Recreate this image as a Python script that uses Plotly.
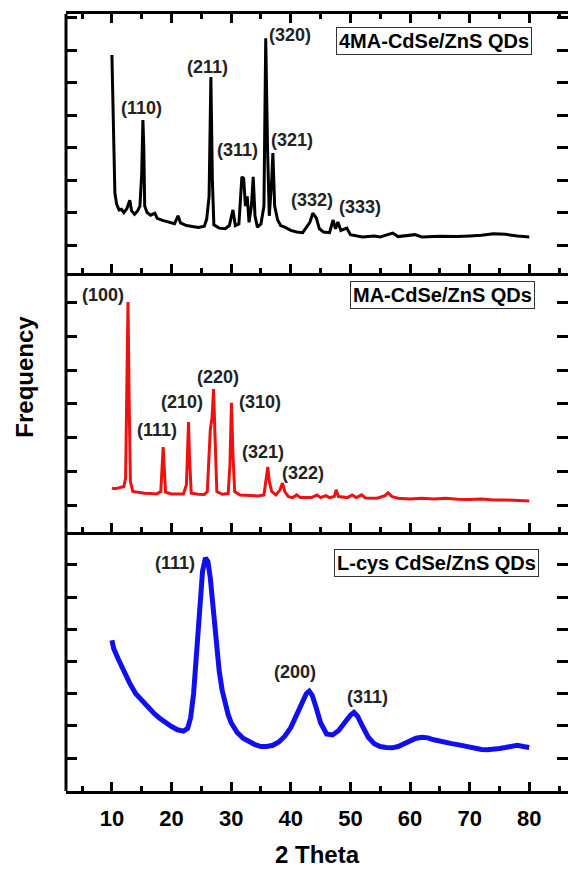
import plotly.graph_objects as go
from plotly.subplots import make_subplots

# ---- Data ----
x_4ma = [10.0, 10.15, 10.3, 10.5, 10.8, 11.2, 11.6, 12.0, 12.5, 13.0, 13.3, 13.8, 14.3, 14.7, 15.0, 15.2, 15.35, 15.5,
         15.9, 16.5, 17.2, 17.6, 18.5, 19.5, 20.5, 21.1, 21.5, 22.5, 23.5, 24.5, 25.5, 25.9, 26.3, 26.6, 26.85, 27.1,
         28.0, 29.0, 29.7, 30.3, 30.7, 31.3, 31.8, 32.1, 32.4, 32.7, 33.0, 33.4, 33.7, 34.0, 34.4, 35.0, 35.5, 35.8,
         36.1, 36.4, 36.8, 37.0, 37.3, 37.8, 38.3, 39.0, 40.0, 41.0, 42.0, 42.8, 43.2, 43.7, 44.3, 44.8, 45.5, 46.5,
         47.1, 47.5, 47.9, 48.4, 49.4, 50.0, 52.0, 54.0, 55.0, 57.1, 58.0, 60.8, 62.0, 65.0, 68.0, 70.0, 72.0, 74.0,
         76.0, 78.0, 80.0]
y_4ma = [585, 450, 250, 160, 125, 108, 110, 100, 112, 138, 105, 95, 105, 120, 220, 385, 300, 120,
         100, 92, 98, 82, 76, 70, 66, 90, 68, 60, 56, 54, 58, 80, 150, 517, 200, 62,
         52, 50, 60, 108, 60, 65, 210, 205, 120, 150, 70, 120, 210, 90, 55, 65, 120, 636,
         300, 90, 200, 283, 120, 77, 60, 55, 45, 40, 38, 60, 70, 98, 83, 50, 40, 38,
         77, 50, 71, 45, 52, 32, 25, 28, 25, 37, 26, 32, 25, 27, 26, 28, 30, 35,
         33, 28, 25]

x_ma = [10.0, 10.5, 11.0, 11.5, 12.0, 12.3, 12.5, 12.7, 12.9, 13.1, 13.5, 14.5, 15.5, 16.5, 17.5, 18.2, 18.45, 18.6,
        18.75, 19.0, 20.0, 21.0, 22.0, 22.5, 22.7, 22.85, 23.0, 23.3, 24.5, 25.5, 26.0, 26.3, 26.5, 26.8, 27.05, 27.3,
        27.6, 28.5, 29.5, 29.8, 30.05, 30.3, 30.6, 31.5, 33.0, 34.5, 35.5, 35.9, 36.15, 36.4, 36.8, 37.5, 38.2, 38.6,
        39.0, 39.6, 40.3, 41.0, 41.6, 43.5, 44.4, 45.0, 45.9, 46.5, 47.3, 47.6, 48.0, 49.5, 50.3, 51.0, 51.9, 52.5,
        54.5, 55.8, 56.3, 57.0, 58.0, 60.0, 62.0, 64.0, 66.0, 68.0, 70.0, 72.0, 74.0, 76.0, 78.0, 80.0]
y_ma = [50, 48, 50, 52, 55, 80, 300, 602, 300, 70, 40, 37, 35, 34, 33, 40, 120, 172,
        120, 38, 33, 32, 33, 60, 200, 246, 150, 35, 32, 31, 40, 180, 222, 260, 344, 200,
        40, 32, 34, 120, 303, 150, 40, 30, 28, 27, 30, 80, 113, 70, 40, 30, 45, 65,
        40, 25, 22, 30, 22, 22, 30, 22, 28, 22, 25, 45, 25, 22, 30, 22, 30, 21,
        20, 28, 36, 25, 20, 18, 20, 18, 20, 17, 16, 18, 15, 15, 14, 12]

x_lcys = [10.0, 10.3, 11.0, 12.0, 13.0, 14.0, 15.0, 16.0, 17.0, 18.0, 19.0, 20.0, 21.0, 22.0, 22.7, 23.2, 23.7, 24.2,
          24.7, 25.2, 25.7, 26.1, 26.5, 27.0, 27.5, 28.0, 28.5, 29.0, 29.5, 30.0, 31.0, 32.0, 33.0, 34.0, 35.0, 36.0,
          37.0, 38.0, 39.0, 40.0, 41.0, 42.0, 42.6, 43.1, 43.6, 44.2, 45.0, 46.0, 47.0, 48.0, 49.0, 50.0, 50.6, 51.2,
          52.0, 53.0, 54.0, 55.0, 56.0, 57.0, 58.0, 59.0, 60.0, 61.0, 62.0, 63.0, 64.0, 65.0, 66.0, 67.0, 68.0, 69.0,
          70.0, 71.0, 72.0, 73.0, 74.0, 75.0, 76.0, 77.0, 78.0, 79.0, 80.0]
y_lcys = [366, 340, 310, 268, 232, 200, 178, 158, 140, 124, 110, 98, 88, 84, 92, 125, 200, 330,
          480, 580, 622, 610, 560, 460, 350, 270, 210, 165, 135, 110, 80, 62, 50, 42, 36, 36,
          40, 50, 68, 95, 135, 178, 200, 208, 195, 160, 110, 75, 72, 85, 110, 133, 142, 130,
          100, 65, 45, 36, 33, 32, 36, 45, 55, 62, 65, 63, 57, 52, 48, 45, 42, 38,
          33, 29, 27, 26, 27, 30, 33, 37, 40, 36, 33]

labels_4ma = ["(110)", "(211)", "(311)", "(320)", "(321)", "(332)", "(333)"]
lx_4ma = [15.0, 26.1, 31.1, 39.9, 40.2, 43.6, 51.6]
ly_4ma = [421, 548, 292, 646, 323, 138, 117]

labels_ma = ["(100)", "(111)", "(210)", "(220)", "(310)", "(321)", "(322)"]
lx_ma = [8.5, 17.5, 21.7, 27.8, 34.8, 35.3, 42.0]
ly_ma = [623, 223, 306, 380, 306, 157, 95]

labels_lcys = ["(111)", "(200)", "(311)"]
lx_lcys = [20.6, 40.7, 52.8]
ly_lcys = [606, 267, 189]

names = ["4MA-CdSe/ZnS QDs", "MA-CdSe/ZnS QDs", "L-cys CdSe/ZnS QDs"]
name_x = [64.0, 65.5, 64.4]
name_y = [628, 623, 606]

x_ticks = [10, 20, 30, 40, 50, 60, 70, 80]

FONT = "Arial, Liberation Sans, sans-serif"

fig = make_subplots(rows=3, cols=1, vertical_spacing=0, shared_xaxes=False)

fig.add_trace(go.Scatter(x=x_4ma, y=y_4ma, mode="lines", line=dict(color="black", width=3)), row=1, col=1)
fig.add_trace(go.Scatter(x=x_ma, y=y_ma, mode="lines", line=dict(color="#ee1111", width=3)), row=2, col=1)
fig.add_trace(go.Scatter(x=x_lcys, y=y_lcys, mode="lines", line=dict(color="#1010ee", width=5)), row=3, col=1)

yranges = [[-86, 711], [-80, 688], [-102, 702]]
for i in range(3):
    r = i + 1
    fig.update_xaxes(row=r, col=1, range=[2.3, 86.5], showline=True, linewidth=3, linecolor="black",
                     mirror=("ticks" if r == 1 else False),
                     ticks="inside", ticklen=9, tickwidth=3, tickcolor="black",
                     tickmode="array", tickvals=x_ticks,
                     minor=dict(ticks="inside", ticklen=5, tickwidth=3, tickcolor="black", dtick=5, tick0=0),
                     showticklabels=(r == 3), showgrid=False, zeroline=False, automargin=False,
                     tickfont=dict(family=FONT, size=22, color="black", weight="bold"),
                     ticklabelstandoff=6)
    fig.update_yaxes(row=r, col=1, range=yranges[i], showline=False, mirror="ticks",
                     ticks="inside", ticklen=11, tickwidth=3, tickcolor="black", automargin=False,
                     dtick=100, tick0=0, showticklabels=False, showgrid=False, zeroline=False)

ann = []
for lab, lx, ly in zip(labels_4ma, lx_4ma, ly_4ma):
    ann.append(dict(x=lx, y=ly, xref="x", yref="y", text=lab, showarrow=False,
                    font=dict(family=FONT, size=18, color="#222", weight="bold")))
for lab, lx, ly in zip(labels_ma, lx_ma, ly_ma):
    ann.append(dict(x=lx, y=ly, xref="x2", yref="y2", text=lab, showarrow=False,
                    font=dict(family=FONT, size=18, color="#222", weight="bold")))
for lab, lx, ly in zip(labels_lcys, lx_lcys, ly_lcys):
    ann.append(dict(x=lx, y=ly, xref="x3", yref="y3", text=lab, showarrow=False,
                    font=dict(family=FONT, size=18, color="#222", weight="bold")))
for k, (nm, nx, ny) in enumerate(zip(names, name_x, name_y)):
    sfx = "" if k == 0 else str(k + 1)
    ann.append(dict(x=nx, y=ny, xref="x" + sfx, yref="y" + sfx, text=nm, showarrow=False,
                    bgcolor="white", bordercolor="#333", borderwidth=1, borderpad=2,
                    font=dict(family=FONT, size=20, color="black", weight="bold")))

ann.append(dict(x=-0.082, y=0.533, xref="paper", yref="paper", text="Frequency", textangle=-90,
                xanchor="center", yanchor="middle",
                showarrow=False, font=dict(family=FONT, size=24, color="black", weight="bold")))
ann.append(dict(x=0.5, y=-0.082, xref="paper", yref="paper", text="2 Theta",
                xanchor="center", yanchor="middle",
                showarrow=False, font=dict(family=FONT, size=24, color="black", weight="bold")))

shapes = [dict(type="line", xref="paper", yref="paper", x0=0, x1=0, y0=0, y1=1,
               line=dict(color="black", width=3))]

fig.update_layout(width=568, height=869, margin=dict(l=66, r=0, t=14, b=78, autoexpand=False),
                  paper_bgcolor="white", plot_bgcolor="white", showlegend=False,
                  annotations=ann, shapes=shapes)

fig.write_html("out.html", config={"displayModeBar": False},
               post_script="document.body.style.margin='0';document.body.style.overflow='hidden';")
